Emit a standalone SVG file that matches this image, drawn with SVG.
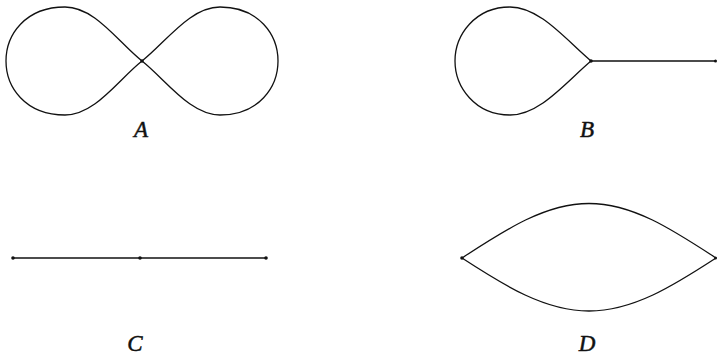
<svg xmlns="http://www.w3.org/2000/svg" width="717" height="355" viewBox="0 0 717 355">
<style>
.e{fill:none;stroke:#111;stroke-width:1.3;stroke-linejoin:round}
.v{fill:#111}
.lbl{font-family:"Liberation Serif","DejaVu Serif",serif;font-style:italic;font-size:23px;fill:#111;stroke:#111;stroke-width:0.5;text-anchor:middle}
</style>
<rect width="717" height="355" fill="#fff"/>
<g id="connectors">
<path class="e" d="M142,61 C118,42 95,7 65,7 C25,7 6,35 6,61 C6,87 25,115 65,115 C95,115 118,80 142,61 C166,42 190,7 220,7 C259,7 278,35 278,61 C278,87 259,115 220,115 C190,115 166,80 142,61 Z"/>
<path class="e" d="M591,61 C566,40 540,7 510,7 C475,7 455,35 455,61 C455,87 475,115 510,115 C540,115 566,82 591,61 L716,61"/>
<path class="e" stroke="#333" d="M13,258 L266,258"/>
<path class="e" d="M462,258 C505,230 545,203.5 589,203.5 C633,203.5 673,230 716,258 C673,286 633,311 589,311 C545,311 505,286 462,258 Z"/>
</g>
<g id="A">
<circle class="v" cx="142" cy="61" r="1.8"/>
<text class="lbl" x="141" y="137">A</text>
</g>
<g id="B">
<circle class="v" cx="591" cy="61" r="1.8"/>
<circle class="v" cx="715.5" cy="61" r="1.5"/>
<text class="lbl" x="587" y="137">B</text>
</g>
<g id="C">
<circle class="v" cx="13" cy="258" r="1.8"/>
<circle class="v" cx="140" cy="258" r="1.8"/>
<circle class="v" cx="266" cy="258" r="1.8"/>
<text class="lbl" x="135" y="351">C</text>
</g>
<g id="D">
<circle class="v" cx="462" cy="258" r="1.8"/>
<circle class="v" cx="715.5" cy="258" r="1.5"/>
<text class="lbl" x="587" y="351">D</text>
</g>
</svg>
